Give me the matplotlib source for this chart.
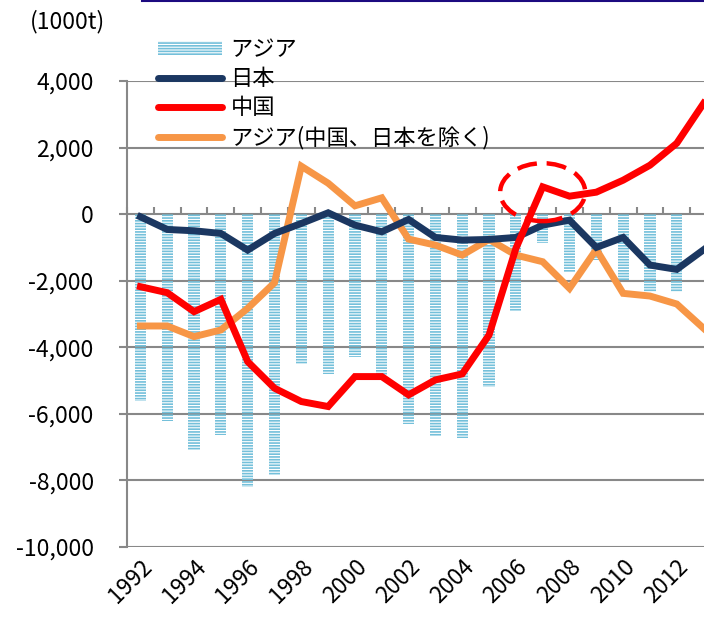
"""
Trade balance chart: Asia / Japan / China / Asia excl. China & Japan.
Saves out.png (704x620).
"""

import numpy as np
import matplotlib
matplotlib.use("Agg")
import matplotlib.pyplot as plt
from matplotlib.lines import Line2D
from matplotlib.patches import Ellipse, Patch

# ---------------------------------------------------------------------------
years = list(range(1992, 2014))

# bars: Asia (no value for 2013)
asia = [-5600, -6200, -7100, -6650, -8200, -7830, -4500, -4800, -4300, -4830,
        -6300, -6680, -6720, -5200, -2900, -880, -1730, -1380, -2000, -2330,
        -2330, np.nan]

japan = [-80, -460, -500, -580, -1080, -580, -280, 40, -330, -530,
         -160, -700, -780, -760, -700, -330, -180, -1000, -700, -1530,
         -1660, -1070]

china = [-2180, -2360, -2930, -2560, -4430, -5230, -5630, -5780, -4880, -4880,
         -5430, -4980, -4800, -3630, -1030, 820, 540, 660, 1020, 1470,
         2130, 3330]

asia_ex = [-3360, -3360, -3680, -3480, -2830, -2060, 1440, 930, 250, 490,
           -750, -930, -1230, -760, -1230, -1430, -2230, -1060, -2380, -2460,
           -2700, -3430]

yticks = [4000, 2000, 0, -2000, -4000, -6000, -8000, -10000]
labels = ["アジア", "日本", "中国", "アジア(中国、日本を除く)"]

BAR_COLOR = "#74c0da"
NAVY      = "#1b3761"
RED       = "#ff0000"
ORANGE    = "#f79646"
GRID      = "#888888"
FS        = 16.5

plt.rcParams["font.family"] = ["Noto Sans CJK JP", "DejaVu Sans"]
plt.rcParams["hatch.linewidth"] = 1.2

fig = plt.figure(figsize=(7.04, 6.20), dpi=100)
ax = fig.add_axes([127 / 704, 1 - 547 / 620, 590 / 704, (547 - 81) / 620])

x = np.arange(len(years))

ax.bar(x, asia, width=0.42, facecolor="none", edgecolor=BAR_COLOR,
       linewidth=0, hatch="------", zorder=2)
ax.plot(x, japan, color=NAVY, lw=5, zorder=4, solid_joinstyle="miter")
ax.plot(x, china, color=RED, lw=5, zorder=5, solid_joinstyle="miter")
ax.plot(x, asia_ex, color=ORANGE, lw=5, zorder=3, solid_joinstyle="miter")

# dashed highlight round the 2007-2008 turn
ax.add_patch(Ellipse((15, 660), 3.17, 1740, fill=False, edgecolor=RED,
                     lw=3.2, ls=(0, (4.5, 2.2)), zorder=6, clip_on=False))

ax.set_xlim(-0.5, len(years) - 0.5)
ax.set_ylim(-10000, 4000)
ax.set_yticks(yticks)
ax.set_yticklabels([f"{v:,}" for v in yticks])
ax.yaxis.grid(True, color=GRID, lw=1.5, zorder=1)
ax.tick_params(axis="y", length=6, width=1.5, color=GRID, labelsize=FS, pad=18)

ax.set_xticks(x[::2])
ax.set_xticklabels([str(y) for y in years[::2]], rotation=45, ha="right",
                   rotation_mode="anchor", fontsize=FS)
ax.tick_params(axis="x", length=0, pad=6)

for side in ("top", "right", "bottom"):
    ax.spines[side].set_visible(False)
ax.spines["left"].set_color(GRID)
ax.spines["left"].set_linewidth(1.5)

# category tick marks on the zero line
zero = ax.secondary_xaxis(10 / 14)
zero.set_xticks(np.arange(-0.5, len(years)))
zero.tick_params(length=5, width=1.5, color=GRID, labelbottom=False,
                 labeltop=False, direction="out")
zero.spines["bottom"].set_visible(False)
zero.spines["top"].set_visible(False)

handles = [
    Patch(facecolor="none", edgecolor=BAR_COLOR, linewidth=0, hatch="------"),
    Line2D([], [], color=NAVY, lw=5, solid_capstyle="round"),
    Line2D([], [], color=RED, lw=5, solid_capstyle="round"),
    Line2D([], [], color=ORANGE, lw=5, solid_capstyle="round"),
]
fig.legend(handles, labels, loc="upper left", bbox_to_anchor=(158 / 704, 1 - 38 / 620),
           frameon=False, fontsize=16, handlelength=2.9, handleheight=0.6,
           handletextpad=0.36, labelspacing=0.28, borderpad=0, borderaxespad=0)

fig.text(30 / 704, 1 - 22 / 620, "(1000t)", fontsize=FS, va="center", ha="left")
fig.add_artist(Line2D([142 / 704, 1], [1 - 1 / 620, 1 - 1 / 620],
                      color="#1c0a80", lw=1.5, transform=fig.transFigure))

fig.savefig("out.png", dpi=100)
